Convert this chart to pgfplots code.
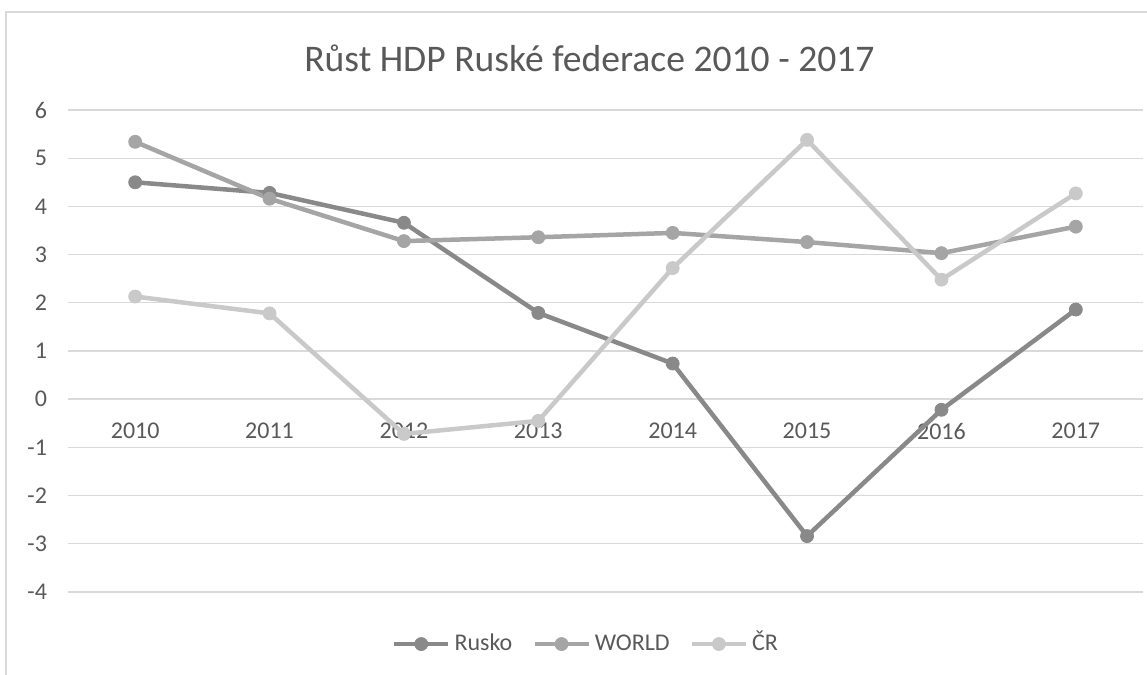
\documentclass[border=0pt]{standalone}
\usepackage{fontspec}
\setmainfont{Carlito}
\usepackage{pgfplots}
\pgfplotsset{compat=1.18}
\definecolor{rusko}{HTML}{898989}
\definecolor{world}{HTML}{A5A5A5}
\definecolor{cr}{HTML}{C9C9C9}
\definecolor{txt}{HTML}{595959}
\definecolor{gridc}{HTML}{D9D9D9}
\begin{document}
\begin{tikzpicture}
\useasboundingbox (0,0) rectangle (573.5pt,337.5pt);
\draw[gridc, line width=0.75pt] (3pt,0) -- (3pt,331.5pt) -- (573.5pt,331.5pt);
\begin{axis}[
  at={(34pt,41.5pt)}, anchor=south west,
  scale only axis, width=537.5pt, height=241pt,
  xmin=-0.5, xmax=7.5, ymin=-4, ymax=6,
  ytick={-4,...,6},
  xtick={0,...,7},
  xticklabels={2010,2011,2012,2013,2014,2015,2016,2017},
  axis x line=middle, axis y line=left,
  hide obscured x ticks=false, hide obscured y ticks=false,
  axis line style={draw=none},
  major tick length=0pt,
  tick style={draw=none},
  ymajorgrids, grid style={gridc, line width=0.7pt},
  ticklabel style={font=\fontsize{12}{14}\selectfont, text=txt},
  xticklabel style={anchor=center, yshift=-16pt},
  yticklabel style={anchor=east, xshift=-7pt},
  /pgf/number format/assume math mode=true,
  title={Růst HDP Ruské federace 2010 - 2017},
  title style={at={(0.4850,1.055)}, anchor=base, font=\fontsize{18.8}{22}\selectfont, text=txt},
  legend columns=3,
  legend style={at={(0.4828,-0.108)}, anchor=center, draw=none, fill=none,
    font=\fontsize{12}{14}\selectfont, text=txt,
    /tikz/every even column/.append style={column sep=8pt}},
  legend image code/.code={\draw[mark repeat=2,mark phase=2] plot coordinates {(0pt,0pt) (13.5pt,0pt) (27pt,0pt)};},
  every axis plot/.append style={line width=2.25pt},
  clip=false,
]
\addplot[rusko, mark=*, mark size=3.25pt, mark options={solid, line width=0.4pt, fill=rusko}]
  coordinates {(0,4.50) (1,4.28) (2,3.66) (3,1.79) (4,0.74) (5,-2.84) (6,-0.22) (7,1.86)};
\addlegendentry{Rusko}
\addplot[world, mark=*, mark size=3.25pt, mark options={solid, line width=0.4pt, fill=world}]
  coordinates {(0,5.34) (1,4.16) (2,3.28) (3,3.36) (4,3.45) (5,3.26) (6,3.03) (7,3.58)};
\addlegendentry{WORLD}
\addplot[cr, mark=*, mark size=3.25pt, mark options={solid, line width=0.4pt, fill=cr}]
  coordinates {(0,2.13) (1,1.78) (2,-0.72) (3,-0.45) (4,2.72) (5,5.38) (6,2.48) (7,4.27)};
\addlegendentry{\smash{Č}R}
\end{axis}
\end{tikzpicture}
\end{document}
